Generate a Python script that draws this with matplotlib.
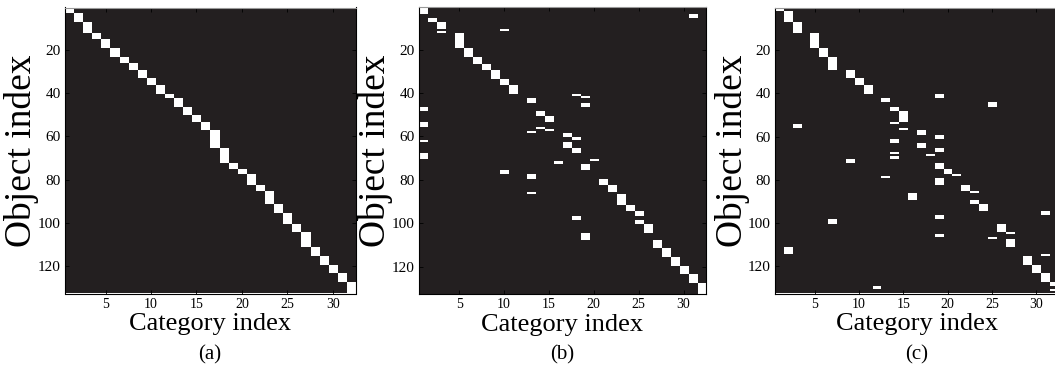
import numpy as np
import matplotlib
matplotlib.use("Agg")
import matplotlib.pyplot as plt
from matplotlib.colors import ListedColormap

plt.rcParams['font.family'] = ['Liberation Serif', 'DejaVu Serif']

n_objects = 132
n_categories = 32

# (a) ground truth: last object index of each category block (categories 1..32)
truth_end = [3, 7, 12, 15, 19, 23, 26, 29, 33, 36, 40, 42, 46, 50, 53, 57,
             65, 72, 75, 77, 82, 85, 91, 95, 100, 104, 111, 115, 119, 123, 127, 132]

# (b) assignments: category, first object, last object
b_cat = [1, 31, 2, 3, 10, 3, 5, 6, 7, 8, 9, 10, 11, 18, 19, 13, 19, 1, 14, 15,
         1, 14, 15, 13, 17, 18, 1, 17, 18, 1, 20, 16, 19, 10, 13, 21, 22, 13, 23, 24,
         25, 18, 25, 26, 19, 27, 28, 29, 30, 31, 32]
b_first = [1, 4, 6, 8, 11, 12, 13, 20, 24, 27, 30, 34, 37, 41, 42, 43, 45, 47, 49, 51,
           54, 56, 57, 58, 59, 61, 62, 63, 66, 68, 71, 72, 73, 76, 78, 80, 83, 86, 87, 92,
           95, 97, 99, 101, 105, 108, 112, 116, 120, 124, 128]
b_last = [3, 5, 7, 10, 11, 12, 19, 23, 26, 29, 33, 36, 40, 41, 42, 44, 46, 48, 50, 53,
          55, 56, 57, 58, 60, 61, 62, 65, 67, 70, 71, 72, 75, 77, 79, 82, 85, 86, 91, 94,
          96, 98, 100, 104, 107, 111, 115, 119, 123, 127, 132]

# (c) assignments: category, first object, last object
c_cat = [1, 2, 3, 5, 6, 7, 9, 10, 11, 19, 13, 25, 14, 15, 14, 3, 15, 17, 19, 14,
         17, 19, 14, 18, 14, 9, 19, 20, 21, 13, 19, 22, 23, 16, 23, 24, 31, 19, 7, 26,
         27, 19, 25, 27, 2, 31, 29, 30, 31, 32, 12, 32]
c_first = [1, 3, 8, 13, 20, 24, 30, 34, 37, 41, 43, 45, 47, 49, 54, 55, 57, 58, 60, 62,
           64, 66, 68, 69, 70, 71, 73, 76, 78, 79, 80, 83, 86, 87, 90, 92, 95, 97, 99, 101,
           105, 106, 107, 108, 112, 115, 116, 120, 124, 128, 130, 131]
c_last = [2, 7, 12, 19, 23, 29, 33, 36, 40, 42, 44, 46, 48, 53, 54, 56, 57, 59, 61, 63,
          65, 67, 68, 69, 70, 72, 75, 77, 78, 79, 82, 85, 86, 89, 91, 94, 96, 98, 100, 104,
          105, 106, 107, 111, 114, 115, 119, 123, 127, 129, 130, 131]


def build(cats, firsts, lasts):
    m = np.zeros((n_objects, n_categories))
    for c, r0, r1 in zip(cats, firsts, lasts):
        m[r0 - 1:r1, c - 1] = 1
    return m


truth_first = [1] + [e + 1 for e in truth_end[:-1]]
mats = [build(range(1, n_categories + 1), truth_first, truth_end),
        build(b_cat, b_first, b_last),
        build(c_cat, c_first, c_last)]
captions = ['(a)', '(b)', '(c)']

W, H = 1055, 376
# axes boxes in pixels: left, right, top, bottom
boxes = [(64.7, 355.5, 7.5, 293.5),
         (418.7, 706.0, 7.3, 293.8),
         (774.7, 1058.5, 8.0, 293.5)]
ylabel_x = [-0.09, -0.09, -0.088]

cmap = ListedColormap(['#231f20', '#ffffff'])

fig = plt.figure(figsize=(W / 100, H / 100), dpi=100)

for m, cap, (l, r, t, b), lx in zip(mats, captions, boxes, ylabel_x):
    ax = fig.add_axes([l / W, 1 - b / H, (r - l) / W, (b - t) / H])
    ax.imshow(m, cmap=cmap, vmin=0, vmax=1, aspect='auto', interpolation='nearest',
              extent=[0.5, n_categories + 0.5, n_objects + 0.5, 0.5])
    ax.set_xticks([5, 10, 15, 20, 25, 30])
    ax.set_yticks([20, 40, 60, 80, 100, 120])
    ax.tick_params(direction='in', top=True, right=True, length=3, width=0.6, pad=3)
    ax.tick_params(axis='x', labelsize=10)
    ax.tick_params(axis='y', labelsize=11)
    for s in ax.spines.values():
        s.set_linewidth(0.8)
    ax.spines['top'].set_color('#999999')
    ax.set_xlabel('Category index', fontsize=19, labelpad=2)
    ax.set_ylabel('Object index', fontsize=27)
    ax.yaxis.set_label_coords(lx, 0.5)
    ax.text(0.5, -(355 - b) / (b - t), cap, transform=ax.transAxes,
            ha='center', va='center', fontsize=15)

fig.savefig('out.png', dpi=100)
